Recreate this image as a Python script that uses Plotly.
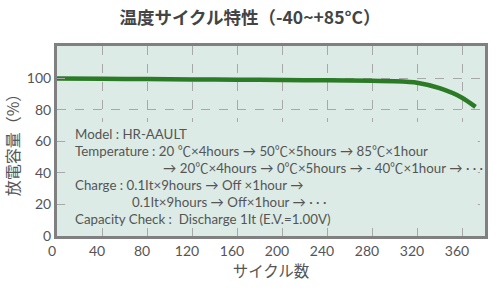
import plotly.graph_objects as go

cycles = [0, 40, 80, 120, 160, 200, 240, 280, 300, 320, 340, 360, 372]
capacity = [100, 99.8, 99.6, 99.4, 99.2, 99.0, 98.8, 98.5, 98.2, 97.3, 93.8, 87.8, 82.0]

x_ticks = [0, 40, 80, 120, 160, 200, 240, 280, 320, 360]
y_ticks = [0, 20, 40, 60, 80, 100]

title = "温度サイクル特性（-40~+85°C）"
x_title = "サイクル数"
y_title = "放電容量（%）"

notes = [
    ("Model : HR-AAULT", 0.0),
    ("Temperature : 20 ℃×4hours → 50℃×5hours → 85℃×1hour", 0.0),
    ("→ 20℃×4hours → 0℃×5hours → - 40℃×1hour → · · ·", 88.0),
    ("Charge : 0.1It×9hours → Off ×1hour →", 0.0),
    ("0.1It×9hours → Off×1hour → · · ·", 57.0),
    ("Capacity Check :  Discharge 1It (E.V.=1.00V)", 0.0),
]

FONT = "Lato, Noto Sans CJK JP, sans-serif"
GREY = "#555555"

fig = go.Figure()
fig.add_trace(go.Scatter(
    x=cycles, y=capacity, mode="lines",
    line=dict(color="#2b7a26", width=4.5, shape="spline", smoothing=0.6),
    hoverinfo="skip", showlegend=False,
))

# panel covering grid behind the text block
fig.add_shape(type="rect", xref="x", yref="y", x0=7.3, x1=374, y0=5, y1=72.4,
              fillcolor="#dcebe6", line=dict(width=0), layer="between")

for i, (txt, dx) in enumerate(notes):
    fig.add_annotation(
        xref="paper", yref="paper", x=0, y=1, xanchor="left", yanchor="middle",
        xshift=16 + dx, yshift=-(88 + 17 * i), text=txt, showarrow=False,
        font=dict(family=FONT, size=13.3, color=GREY),
    )

fig.update_layout(
    width=500, height=292,
    margin=dict(l=57, r=13, t=46, b=56),
    paper_bgcolor="white", plot_bgcolor="#dcebe6",
    title=dict(text=title, x=0.5, xanchor="center", y=0.94, yanchor="middle",
               font=dict(family="Noto Sans CJK JP", size=17.5, color="#444444", weight="bold")),
    showlegend=False,
)
fig.update_xaxes(
    range=[0, 380.4], tickvals=x_ticks, ticktext=[str(v) for v in x_ticks],
    showgrid=True, gridcolor="#a8a8a8", griddash="dash", gridwidth=1,
    zeroline=False, showline=True, linecolor="#808080", linewidth=3, mirror=True,
    ticks="inside", ticklen=8, tickcolor="#a8a8a8", ticklabelshift=-5,
    tickfont=dict(family=FONT, size=14, color=GREY),
    title=dict(text=x_title, standoff=6, font=dict(family="Noto Sans CJK JP", size=15.5, color=GREY)),
)
fig.update_yaxes(
    range=[0, 120.6], tickvals=y_ticks, ticktext=[str(v) for v in y_ticks],
    showgrid=True, gridcolor="#a8a8a8", griddash="dash", gridwidth=1,
    zeroline=False, showline=True, linecolor="#808080", linewidth=3, mirror=True,
    ticks="inside", ticklen=8, tickcolor="#a8a8a8",
    tickfont=dict(family=FONT, size=14, color=GREY),
    title=dict(text=y_title, standoff=4, font=dict(family="Noto Sans CJK JP", size=16, color=GREY)),
)

fig.write_html("out.html")
